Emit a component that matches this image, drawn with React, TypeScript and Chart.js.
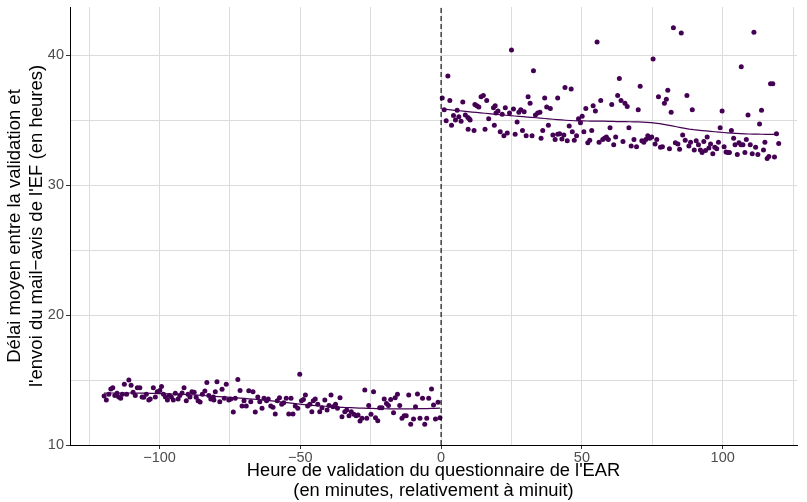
import React, { useEffect, useRef } from "react";
import { Chart, registerables } from "chart.js";

Chart.register(...registerables);

// Minutes relative to midnight (x) and mean delay in hours (y), before midnight
const leftMinutes = [
  -119.7, -118.9, -118.0, -117.3, -116.6, -115.9, -115.1, -114.5, -113.8, -113.2,
  -112.5, -111.7, -110.9, -110.1, -109.4, -108.6, -107.9, -107.0, -106.2, -105.6,
  -104.7, -103.8, -103.3, -102.2, -101.5, -100.8, -99.9, -99.3, -98.6, -97.9,
  -97.2, -96.5, -95.8, -95.1, -94.4, -93.4, -92.8, -92.0, -91.3, -90.5,
  -89.9, -89.2, -88.5, -87.7, -87.0, -86.3, -85.6, -84.8, -83.9, -83.2,
  -82.5, -81.8, -80.9, -80.7, -80.2, -79.6, -78.6, -77.8, -77.0, -76.3,
  -75.4, -74.7, -73.8, -73.1, -72.2, -71.4, -70.7, -70.0, -69.2, -68.3,
  -67.6, -66.8, -66.0, -65.1, -64.4, -63.6, -62.9, -62.0, -61.4, -60.5,
  -59.7, -58.9, -58.2, -57.4, -56.6, -55.9, -55.0, -54.1, -53.3, -52.6,
  -51.8, -50.9, -50.2, -49.6, -48.9, -48.2, -47.4, -46.6, -45.9, -45.4,
  -44.7, -43.8, -43.1, -42.3, -41.3, -40.5, -39.8, -39.1, -38.4, -37.5,
  -36.8, -35.9, -35.2, -34.2, -33.5, -32.7, -31.9, -31.0, -30.2, -29.5,
  -28.8, -28.1, -27.1, -26.4, -25.7, -24.9, -24.0, -23.3, -22.5, -21.8,
  -21.0, -20.2, -19.4, -18.7, -17.9, -16.9, -16.3, -15.5, -14.7, -13.9,
  -13.1, -12.4, -11.5, -10.8, -9.8, -9.1, -8.4, -7.5, -6.6, -5.8,
  -5.1, -4.4, -3.4, -2.7, -2.0, -1.1, -0.4,
];
const leftDelays = [
  13.77, 13.46, 13.9, 14.3, 14.4, 13.8, 13.98, 13.7, 13.6, 13.9,
  14.67, 13.9, 15.0, 14.6, 14.05, 13.8, 14.4, 14.4, 13.7, 13.67,
  13.9, 13.46, 13.54, 14.4, 13.7, 14.1, 14.2, 14.5, 13.9, 13.7,
  13.46, 13.8, 13.7, 13.46, 13.98, 13.54, 13.8, 14.0, 14.4, 13.4,
  13.9, 13.7, 14.1, 14.05, 13.67, 13.4, 13.3, 13.9, 14.15, 14.8,
  13.8, 13.54, 13.7, 13.46, 14.1, 14.87, 13.33, 14.28, 13.6, 14.67,
  13.46, 13.54, 12.54, 13.6, 15.03, 14.2, 13.0, 13.4, 13.0, 14.18,
  13.33, 14.1, 12.54, 13.7, 13.33, 12.82, 13.6, 13.4, 13.54, 13.0,
  12.9, 12.38, 13.4, 13.64, 13.13, 13.26, 13.6, 12.38, 13.6, 12.38,
  13.0, 12.82, 15.44, 13.4, 13.5, 13.85, 13.0, 13.13, 12.56, 13.4,
  13.54, 13.13, 12.56, 12.87, 13.46, 12.7, 13.03, 13.85, 12.95, 13.13,
  12.82, 13.64, 12.18, 12.56, 12.7, 12.26, 12.56, 12.36, 12.26, 12.3,
  11.85, 12.05, 14.23, 12.05, 13.03, 12.36, 14.1, 12.1, 11.87, 12.87,
  12.87, 13.54, 13.2, 13.03, 13.5, 12.49, 13.64, 13.9, 13.03, 12.05,
  12.26, 12.26, 13.85, 11.59, 12.0, 12.95, 13.92, 12.05, 13.6, 11.59,
  12.05, 13.6, 14.3, 13.08, 12.0, 13.28, 12.1,
];

// After midnight
const rightMinutes = [
  0.4, 1.1, 1.8, 2.4, 3.1, 3.7, 4.4, 5.1, 5.7, 6.3,
  7.1, 7.7, 8.6, 9.5, 9.6, 10.0, 10.3, 11.7, 12.0, 12.7,
  13.4, 14.2, 15.0, 15.6, 16.2, 16.9, 18.6, 18.9, 19.2, 19.5,
  20.2, 21.0, 21.7, 22.3, 22.8, 23.5, 24.3, 25.0, 25.7, 26.3,
  27.0, 27.6, 28.3, 28.9, 29.5, 30.2, 30.9, 31.6, 32.3, 32.8,
  33.5, 34.3, 35.1, 35.5, 36.1, 36.8, 37.5, 38.1, 38.8, 39.7,
  40.5, 41.4, 41.4, 42.1, 42.9, 43.6, 44.0, 44.8, 45.5, 46.2,
  46.6, 47.3, 48.1, 48.8, 49.5, 50.1, 50.7, 51.4, 52.1, 52.8,
  53.5, 54.0, 54.8, 55.4, 56.1, 56.7, 57.4, 58.0, 58.7, 59.4,
  60.0, 60.6, 61.3, 62.0, 62.7, 63.3, 63.9, 64.6, 65.3, 66.1,
  66.7, 67.5, 68.5, 69.4, 70.0, 70.7, 71.3, 72.0, 72.7, 73.4,
  74.1, 74.8, 75.3, 76.0, 76.6, 77.2, 77.9, 78.6, 79.3, 80.0,
  80.5, 81.1, 81.7, 82.5, 83.2, 84.1, 84.7, 85.3, 85.8, 86.7,
  87.3, 88.0, 88.6, 89.2, 89.9, 90.6, 91.4, 92.1, 92.7, 93.3,
  93.9, 94.5, 95.1, 95.7, 96.5, 97.2, 97.9, 98.5, 99.1, 99.8,
  100.5, 101.2, 101.8, 102.4, 103.1, 103.9, 104.4, 105.2, 105.8, 106.5,
  106.6, 107.2, 107.9, 108.4, 109.0, 109.8, 110.5, 111.1, 111.7, 112.5,
  113.1, 113.8, 114.5, 115.0, 115.8, 116.4, 117.0, 117.8, 118.4, 119.1,
  119.9,
];
const rightDelays = [
  36.7, 35.8, 34.95, 38.4, 36.5, 34.6, 35.35, 35.0, 35.75, 35.25,
  34.9, 36.4, 35.4, 35.2, 34.3, 35.1, 35.0, 34.2, 36.2, 36.1,
  36.0, 36.8, 36.9, 34.3, 36.5, 35.1, 35.95, 34.6, 36.1, 35.55,
  35.7, 34.1, 35.45, 33.8, 35.95, 34.0, 35.55, 40.4, 35.85, 33.9,
  34.85, 35.6, 35.8, 34.2, 35.65, 33.8, 36.8, 36.3, 33.8, 38.8,
  35.4, 35.55, 35.6, 33.6, 34.2, 36.7, 36.0, 34.6, 35.9, 33.85,
  33.5, 36.7, 33.9, 33.95, 33.55, 33.85, 37.5, 33.4, 34.55, 37.4,
  34.1, 33.45, 33.8, 35.1, 34.8, 35.3, 34.1, 35.9, 33.25, 33.45,
  34.2, 36.1, 35.7, 41.0, 33.3, 36.5, 33.5, 33.6, 33.7, 33.5,
  34.4, 36.2, 33.1, 33.7, 36.9, 38.2, 36.5, 33.35, 36.3, 36.05,
  34.4, 33.0, 33.5, 32.95, 35.8, 37.6, 33.4, 33.3, 33.5, 33.8,
  33.6, 33.7, 39.7, 33.15, 33.5, 36.8, 32.9, 32.95, 36.3, 36.6,
  37.3, 32.8, 35.6, 42.1, 33.25, 33.15, 32.75, 41.7, 33.85, 33.45,
  36.9, 33.0, 33.3, 35.8, 32.7, 33.4, 33.1, 32.7, 32.5, 33.35,
  32.65, 33.7, 32.85, 33.15, 32.4, 32.9, 32.8, 33.3, 34.4, 35.7,
  32.95, 32.55, 32.5, 32.5, 34.2, 33.6, 33.1, 32.35, 33.25, 33.1,
  39.1, 33.1, 32.5, 33.5, 35.4, 33.1, 32.4, 41.75, 32.9, 32.35,
  34.7, 35.75, 32.7, 33.3, 32.05, 32.2, 37.8, 37.8, 32.15, 33.95,
  33.2,
];

const xMajorTicks = [-100, -50, 0, 50, 100];
const xMinorTicks = [-125, -75, -25, 25, 75, 125];
const yMajorTicks = [10, 20, 30, 40];
const yMinorTicks = [15, 25, 35];
const xLimits = [-131.8, 126.4];
const yLimits = [10, 43.7];
const cutoffMinute = 0;

const xTitle = [
  "Heure de validation du questionnaire de l'EAR",
  "(en minutes, relativement à minuit)",
];
const yTitle = [
  "Délai moyen entre la validation et",
  "l'envoi du mail\u2212avis de l'EF (en heures)",
];

const POINT_COLOR = "#440154";
const FONT = "'Liberation Sans', Arial, Helvetica, sans-serif";

function solve3(A: number[][], b: number[]): number[] {
  const M = A.map((r, i) => [...r, b[i]]);
  for (let c = 0; c < 3; c++) {
    let p = c;
    for (let r = c + 1; r < 3; r++) if (Math.abs(M[r][c]) > Math.abs(M[p][c])) p = r;
    [M[c], M[p]] = [M[p], M[c]];
    for (let r = 0; r < 3; r++) {
      if (r === c) continue;
      const f = M[r][c] / M[c][c];
      for (let k = c; k < 4; k++) M[r][k] -= f * M[c][k];
    }
  }
  return [M[0][3] / M[0][0], M[1][3] / M[1][1], M[2][3] / M[2][2]];
}

// Local quadratic fit at x0 (tricube weights) -> value and slope
function localFit(xs: number[], ys: number[], span: number, x0: number) {
  const n = xs.length;
  const q = Math.max(3, Math.floor(span * n));
  const d = xs.map((x) => Math.abs(x - x0));
  const h = [...d].sort((a, b) => a - b)[q - 1] * 1.000001;
  const A = [
    [0, 0, 0],
    [0, 0, 0],
    [0, 0, 0],
  ];
  const b = [0, 0, 0];
  for (let i = 0; i < n; i++) {
    if (d[i] >= h) continue;
    const u = d[i] / h;
    const w = Math.pow(1 - u * u * u, 3);
    const t = xs[i] - x0;
    const basis = [1, t, t * t];
    for (let r = 0; r < 3; r++) {
      b[r] += w * basis[r] * ys[i];
      for (let c = 0; c < 3; c++) A[r][c] += w * basis[r] * basis[c];
    }
  }
  const beta = solve3(A, b);
  return { y: beta[0], slope: beta[1] };
}

// loess as in R: fits at kd-tree vertices, cubic Hermite interpolation between them
function loess(xs: number[], ys: number[], span: number, nOut: number) {
  const sorted = [...xs].sort((a, b) => a - b);
  const n = sorted.length;
  const fc = Math.floor(n * span * 0.2);
  const verts: number[] = [sorted[0], sorted[n - 1]];
  const split = (a: number, b: number) => {
    const cnt = b - a + 1;
    if (cnt <= fc) return;
    const k = Math.floor((a + b) / 2);
    const v = cnt % 2 === 1 ? sorted[k] : (sorted[k] + sorted[k + 1]) / 2;
    verts.push(v);
    split(a, k);
    split(k + 1, b);
  };
  split(0, n - 1);
  const vs = Array.from(new Set(verts)).sort((a, b) => a - b);
  const fits = vs.map((v) => localFit(xs, ys, span, v));
  const out: { x: number; y: number }[] = [];
  const lo = vs[0];
  const hi = vs[vs.length - 1];
  for (let k = 0; k < nOut; k++) {
    const x = lo + ((hi - lo) * k) / (nOut - 1);
    let j = 0;
    while (j < vs.length - 2 && x > vs[j + 1]) j++;
    const x0 = vs[j];
    const x1 = vs[j + 1];
    const hh = x1 - x0;
    const t = (x - x0) / hh;
    const t2 = t * t;
    const t3 = t2 * t;
    const y =
      (2 * t3 - 3 * t2 + 1) * fits[j].y +
      (t3 - 2 * t2 + t) * hh * fits[j].slope +
      (-2 * t3 + 3 * t2) * fits[j + 1].y +
      (t3 - t2) * hh * fits[j + 1].slope;
    out.push({ x, y });
  }
  return out;
}

const fmt = (v: number) => (v < 0 ? "\u2212" + Math.abs(v) : String(v));

export default function App() {
  const canvasRef = useRef<HTMLCanvasElement | null>(null);

  useEffect(() => {
    const canvas = canvasRef.current;
    if (!canvas) return;
    const leftPts = leftMinutes.map((x, i) => ({ x, y: leftDelays[i] }));
    const rightPts = rightMinutes.map((x, i) => ({ x, y: rightDelays[i] }));
    const leftSmooth = loess(leftMinutes, leftDelays, 0.75, 80);
    const rightSmooth = loess(rightMinutes, rightDelays, 0.75, 80);

    const xAll = [...xMinorTicks, ...xMajorTicks].sort((a, b) => a - b);
    const yAll = [...yMinorTicks, ...yMajorTicks].sort((a, b) => a - b);

    const chart = new Chart(canvas, {
      type: "scatter",
      data: {
        datasets: [
          {
            label: "avant minuit",
            data: leftPts,
            pointRadius: 2.5,
            pointBackgroundColor: POINT_COLOR,
            pointBorderWidth: 0,
            order: 3,
          },
          {
            label: "après minuit",
            data: rightPts,
            pointRadius: 2.5,
            pointBackgroundColor: POINT_COLOR,
            pointBorderWidth: 0,
            order: 3,
          },
          {
            label: "lissage avant",
            data: leftSmooth,
            showLine: true,
            borderColor: POINT_COLOR,
            borderWidth: 1.2,
            pointRadius: 0,
            order: 2,
          },
          {
            label: "lissage après",
            data: rightSmooth,
            showLine: true,
            borderColor: POINT_COLOR,
            borderWidth: 1.2,
            pointRadius: 0,
            order: 2,
          },
          {
            label: "minuit",
            data: [
              { x: cutoffMinute, y: yLimits[0] },
              { x: cutoffMinute, y: yLimits[1] },
            ],
            showLine: true,
            borderColor: "#000000",
            borderWidth: 1.1,
            borderDash: [5, 3],
            pointRadius: 0,
            order: 1,
          },
        ],
      },
      options: {
        animation: false,
        responsive: false,
        devicePixelRatio: 1,
        layout: { padding: { top: 7, right: 10, left: 0, bottom: 0 } },
        plugins: {
          legend: { display: false },
          tooltip: { enabled: false },
        },
        scales: {
          x: {
            type: "linear",
            min: xLimits[0],
            max: xLimits[1],
            afterBuildTicks: (s: any) => {
              s.ticks = xAll.map((v) => ({ value: v }));
            },
            afterFit: (s: any) => {
              s.height = 57;
              s.paddingLeft = 0;
              s.paddingRight = 0;
            },
            ticks: {
              autoSkip: false,
              maxRotation: 0,
              padding: 0,
              color: "#4D4D4D",
              font: { family: FONT, size: 14.5 },
              callback: (v: any) => (xMajorTicks.includes(Number(v)) ? fmt(Number(v)) : ""),
            },
            grid: {
              color: "#DCDCDC",
              lineWidth: 1,
              drawTicks: true,
              tickLength: 4,
              tickColor: (ctx: any) =>
                ctx.tick && xMajorTicks.includes(ctx.tick.value) ? "#333333" : "rgba(0,0,0,0)",
            },
            border: { display: true, color: "#000000", width: 1 },
            title: {
              display: true,
              text: xTitle,
              color: "#000000",
              font: { family: FONT, size: 18.3, lineHeight: 1.09 },
              padding: { top: 0, bottom: 1 },
            },
          },
          y: {
            type: "linear",
            min: yLimits[0],
            max: yLimits[1],
            afterBuildTicks: (s: any) => {
              s.ticks = yAll.map((v) => ({ value: v }));
            },
            afterFit: (s: any) => {
              s.width = 70;
              s.paddingTop = 0;
              s.paddingBottom = 0;
            },
            ticks: {
              autoSkip: false,
              padding: 2,
              color: "#4D4D4D",
              font: { family: FONT, size: 14.5 },
              callback: (v: any) => (yMajorTicks.includes(Number(v)) ? fmt(Number(v)) : ""),
            },
            grid: {
              color: "#DCDCDC",
              lineWidth: 1,
              drawTicks: true,
              tickLength: 4,
              tickColor: (ctx: any) =>
                ctx.tick && yMajorTicks.includes(ctx.tick.value) ? "#333333" : "rgba(0,0,0,0)",
            },
            border: { display: true, color: "#000000", width: 1 },
            title: {
              display: true,
              text: yTitle,
              color: "#000000",
              font: { family: FONT, size: 18.5, lineHeight: 1.18 },
              padding: { top: 4, bottom: 0 },
            },
          },
        },
      },
    });
    return () => chart.destroy();
  }, []);

  return (
    <div style={{ position: "fixed", left: 0, top: 0, width: 807, height: 502, background: "#ffffff" }}>
      <canvas ref={canvasRef} width={807} height={502} style={{ display: "block" }} />
    </div>
  );
}
